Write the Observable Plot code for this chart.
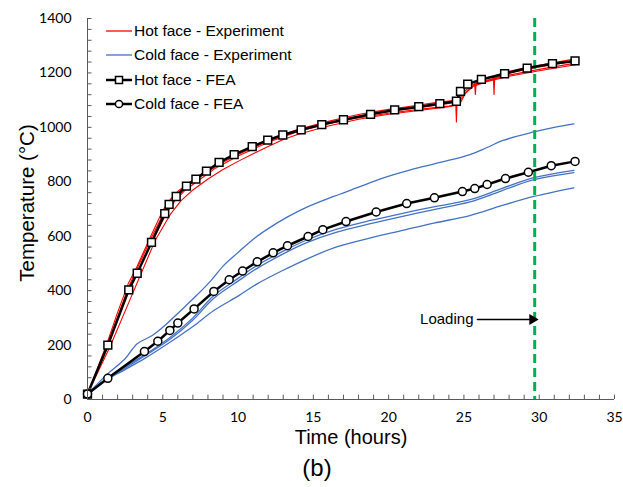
<!DOCTYPE html>
<html>
<head>
<meta charset="utf-8">
<script src="https://cdn.jsdelivr.net/npm/d3@7"></script>
<script src="https://cdn.jsdelivr.net/npm/@observablehq/plot@0.6"></script>
<style>
  html, body { margin: 0; padding: 0; background: #fff; }
  #wrap { position: relative; width: 623px; height: 487px; }
  #legend { position: absolute; left: 0; top: 0; font-family: "Liberation Sans", Arial, sans-serif; font-size: 15.5px; color: #000; }
  .row { position: absolute; left: 105px; height: 20px; display: flex; align-items: center; white-space: nowrap; }
  .row svg { display: block; margin-right: 1px; }
</style>
</head>
<body>
<div id="wrap"><div id="legend"></div></div>
<script>
// ---- Data (time in hours, temperature in °C) ----
const hotFEA = [[0,20],[1.35,200],[2.74,403],[3.3,464],[4.25,577],[5.13,683],[5.42,717],[5.89,746],[6.57,784],[7.2,810],[7.9,839],[8.74,871],[9.74,900],[10.94,929],[11.97,953],[12.97,972],[14.19,991],[15.56,1010],[17.0,1028],[18.8,1048],[20.4,1064],[22.0,1076],[23.4,1087],[24.5,1096],[24.77,1132],[25.25,1159],[26.16,1176],[27.7,1197],[29.2,1218],[30.88,1234],[32.38,1244]];
const coldFEA = [[0,20],[1.35,78],[3.78,176],[4.67,214],[5.47,254],[6.0,281],[7.08,333],[8.39,397],[9.41,440],[10.3,472],[11.27,506],[12.33,539],[13.28,565],[14.65,599],[15.63,624],[17.17,654],[19.17,689],[21.2,720],[23.04,741],[24.9,764],[25.72,775],[26.54,790],[27.76,812],[29.28,835],[30.8,859],[32.38,875]];

const hotExp1 = [[0,20],[0.5,90],[1.35,215],[2.0,320],[2.7,425],[3.3,490],[4.2,600],[5.0,695],[5.5,735],[6.0,765],[6.6,790],[7.2,815],[8,845],[9,878],[10,905],[11,930],[12,955],[13,975],[14,993],[15,1008],[16,1022],[17,1035],[18,1047],[19,1057],[20,1066],[21,1074],[22,1082],[23,1090],[24,1097],[24.45,1100],[24.5,1020],[24.55,1102],[24.8,1135],[25.2,1160],[25.7,1168],[25.76,1121],[25.82,1170],[26.5,1182],[26.95,1188],[27.0,1121],[27.05,1190],[27.5,1198],[28,1206],[29,1218],[30,1228],[31,1238],[32.4,1252]];
const hotExp2 = [[0,20],[1.35,195],[2.7,395],[4.2,570],[5.2,680],[5.8,730],[6.5,770],[7.5,810],[8.5,850],[10,895],[12,945],[14,985],[16,1013],[18,1035],[20,1052],[22,1066],[24,1078],[24.6,1085],[25,1120],[25.5,1150],[26.5,1170],[28,1192],[30,1213],[32.4,1236]];
const hotExp3 = [[0,20],[1.5,195],[3,390],[4.5,585],[5.5,680],[6.2,730],[7,770],[8,810],[9,845],[10,875],[11,903],[12,930],[13,955],[14,975],[16,1005],[18,1030],[20,1048],[22,1062],[24,1076],[24.7,1083],[25.1,1125],[25.6,1150],[26.5,1168],[28,1188],[30,1208],[32.4,1230]];
const hotExp4 = [[0,20],[1.35,205],[2.7,410],[4.2,590],[5.1,690],[5.5,725],[6,760],[7,800],[8,838],[9,872],[10,900],[12,950],[14,988],[16,1015],[18,1040],[20,1058],[22,1072],[24,1088],[24.6,1094],[25,1130],[25.5,1155],[26,1165],[27,1180],[28,1200],[30,1222],[32.4,1244]];

const coldExp1 = [[0,20],[1.35,95],[2.5,150],[3.3,205],[4.3,235],[5.2,275],[6.2,327],[7.2,380],[8.2,437],[9.05,493],[10,540],[11.05,591],[12,628],[13.26,670],[14.5,705],[16.35,746],[18,780],[19.46,811],[21.45,844],[23.5,872],[25.4,900],[26.5,925],[27.6,952],[29.64,983],[31,1000],[32.3,1013]];
const coldExp2 = [[0,20],[1.35,80],[2.5,120],[3.74,162],[5.5,229],[7,300],[8.39,382],[10,445],[11.27,493],[13,545],[14.6,587],[16.5,625],[18.8,658],[21,685],[23,708],[25.4,734],[27.5,775],[29.64,815],[32.3,842]];
const coldExp3 = [[0,20],[1.35,78],[2.5,115],[3.74,158],[5.5,222],[7,292],[8.39,372],[10,435],[11.27,482],[13,535],[14.6,577],[16.5,614],[18.8,646],[21,674],[23,698],[25.4,726],[27.5,767],[29.64,808],[32.3,834]];
const coldExp4 = [[0,20],[1.35,75],[2.5,110],[3.78,150],[5.5,211],[7,268],[8.39,327],[10,380],[11.27,425],[13,475],[14.6,517],[16.5,560],[18.8,594],[21,622],[23,648],[25.4,676],[27.5,712],[29.64,746],[32.3,778]];

const loadingTime = 29.7;
const loadingArrow = {x1: 25.9, x2: 29.55, y: 294};
const xTicks = [0,5,10,15,20,25,30,35];
const yTicks = [0,200,400,600,800,1000,1200,1400];
const xMinor = d3.range(0, 36, 1);
const yMinor = d3.range(0, 1401, 40);

const legendItems = [
  {label: "Hot face - Experiment", color: "#FF0000", width: 1.3, marker: null},
  {label: "Cold face - Experiment", color: "#4472C4", width: 1.3, marker: null},
  {label: "Hot face - FEA", color: "#000", width: 2.5, marker: "square"},
  {label: "Cold face - FEA", color: "#000", width: 2.5, marker: "circle"}
];

// ---- Chart ----
const hotExps = [hotExp1, hotExp2, hotExp3, hotExp4];
const coldExps = [coldExp1, coldExp2, coldExp3, coldExp4];
const tickFont = "Lato, 'Open Sans', sans-serif";
const titleFont = "'Liberation Sans', Arial, sans-serif";

const chart = Plot.plot({
  width: 623,
  height: 487,
  marginTop: 18,
  marginBottom: 88,
  marginLeft: 87,
  marginRight: 9,
  x: {domain: [0, 35], axis: null},
  y: {domain: [0, 1400], axis: null},
  style: {background: "#fff", overflow: "visible"},
  marks: [
    ...coldExps.map(s => Plot.line(s, {x: d => d[0], y: d => d[1], stroke: "#4472C4", strokeWidth: 1.3, curve: "catmull-rom"})),
    ...hotExps.map(s => Plot.line(s, {x: d => d[0], y: d => d[1], stroke: "#FF0000", strokeWidth: 1.1, curve: "linear"})),
    Plot.ruleX([loadingTime], {stroke: "#00B050", strokeWidth: 3, strokeDasharray: "9,5"}),
    Plot.line(hotFEA, {x: d => d[0], y: d => d[1], stroke: "#000", strokeWidth: 2.5}),
    Plot.line(coldFEA, {x: d => d[0], y: d => d[1], stroke: "#000", strokeWidth: 2.5}),
    Plot.dot(hotFEA, {x: d => d[0], y: d => d[1], symbol: "square", r: 4.4, fill: "#fff", stroke: "#000", strokeWidth: 1.5}),
    Plot.dot(coldFEA, {x: d => d[0], y: d => d[1], symbol: "circle", r: 4, fill: "#fff", stroke: "#000", strokeWidth: 1.5}),
    // axes lines and inward ticks
    Plot.ruleY([0], {stroke: "#595959", strokeWidth: 1}),
    Plot.ruleX([0], {stroke: "#595959", strokeWidth: 1}),
    Plot.ruleX(xMinor, {x: d => d, y1: 0, y2: 16, stroke: "#595959", strokeWidth: 1}),
    Plot.ruleY(yMinor, {y: d => d, x1: 0, x2: 0.3, stroke: "#595959", strokeWidth: 1}),
    // tick labels
    Plot.text(xTicks, {x: d => d, frameAnchor: "bottom", dy: 22, textAnchor: "middle", text: d => String(d), fontSize: 14, fontFamily: tickFont, fill: "#000"}),
    Plot.text(yTicks, {y: d => d, frameAnchor: "left", dx: -16, textAnchor: "end", text: d => String(d), fontSize: 14, fontFamily: tickFont, fill: "#000"}),
    // axis titles
    Plot.text(["Time (hours)"], {frameAnchor: "bottom", dy: 44, textAnchor: "middle", text: d => d, fontSize: 20, fontFamily: titleFont, fill: "#000"}),
    Plot.text(["(b)"], {frameAnchor: "bottom", dy: 76, dx: -34, textAnchor: "middle", text: d => d, fontSize: 24, fontFamily: titleFont, fill: "#000"}),
    Plot.text(["Temperature (°C)"], {frameAnchor: "left", dx: -60, dy: -6, textAnchor: "middle", rotate: -90, text: d => d, fontSize: 20.5, fontFamily: titleFont, fill: "#000"}),
    // loading annotation
    Plot.arrow([loadingArrow], {x1: "x1", x2: "x2", y1: "y", y2: "y", stroke: "#000", strokeWidth: 1.5, headLength: 0}),
    Plot.dot([loadingArrow], {x: "x2", y: "y", symbol: "triangle", r: 4, rotate: 90, fill: "#000", stroke: "none"}),
    Plot.text([loadingArrow], {x: "x1", y: "y", dx: -4, textAnchor: "end", text: () => "Loading", fontSize: 15, fontFamily: titleFont, fill: "#000"})
  ]
});
document.getElementById("wrap").prepend(chart);

// ---- Legend (HTML overlay) ----
const legend = d3.select("#legend");
const rowTops = [21, 45, 70, 94];
legendItems.forEach((it, i) => {
  const row = legend.append("div").attr("class", "row").style("top", rowTops[i] + "px");
  const s = row.append("svg").attr("width", 28).attr("height", 20);
  s.append("line").attr("x1", 1).attr("x2", 27).attr("y1", 10).attr("y2", 10)
    .attr("stroke", it.color).attr("stroke-width", it.width);
  if (it.marker === "square") {
    s.append("rect").attr("x", 10.5).attr("y", 6.5).attr("width", 7).attr("height", 7)
      .attr("fill", "#fff").attr("stroke", "#000").attr("stroke-width", 1.5);
  } else if (it.marker === "circle") {
    s.append("circle").attr("cx", 14).attr("cy", 10).attr("r", 3.6)
      .attr("fill", "#fff").attr("stroke", "#000").attr("stroke-width", 1.5);
  }
  row.append("span").text(it.label);
});
</script>
</body>
</html>
